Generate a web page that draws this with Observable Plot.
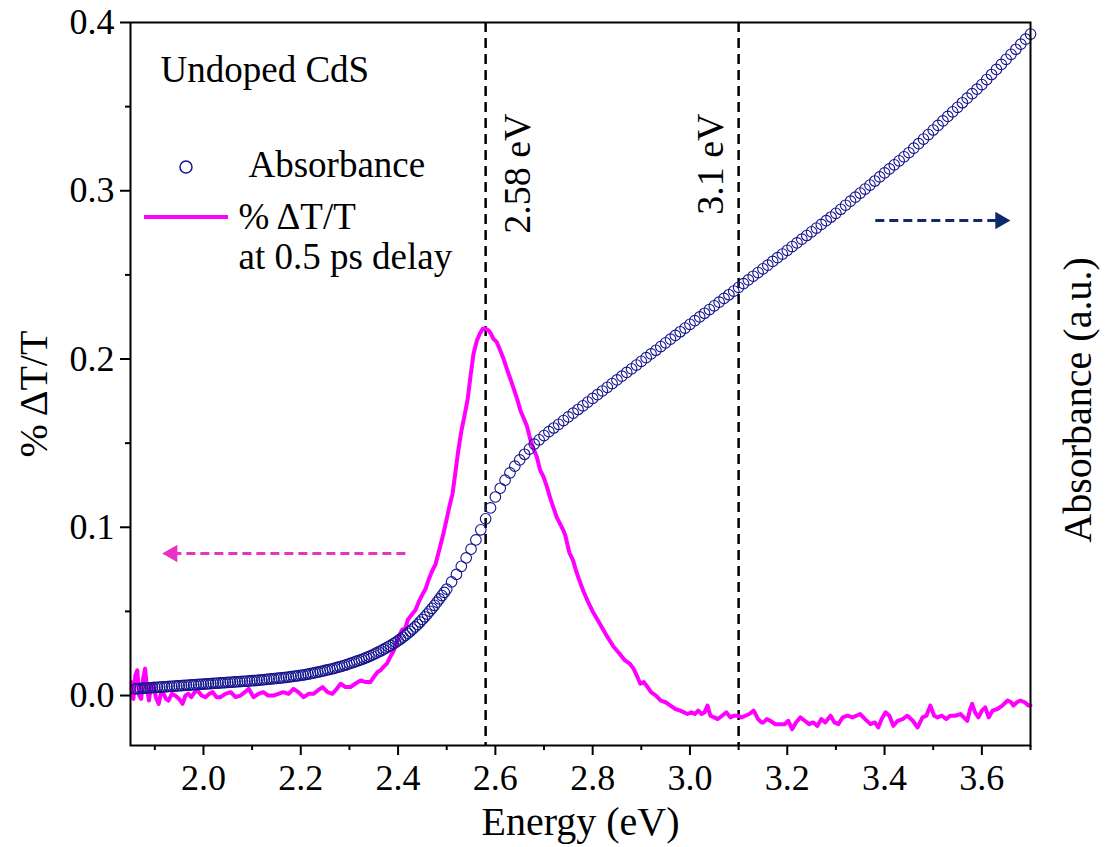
<!DOCTYPE html>
<html><head><meta charset="utf-8">
<script src="https://cdn.jsdelivr.net/npm/d3@7"></script>
<script src="https://cdn.jsdelivr.net/npm/@observablehq/plot@0.6"></script>
<style>
body{margin:0;background:#fff}
#chart{width:1106px;height:847px}
#chart svg, #chart svg text{font-family:'Liberation Serif','Times New Roman',Times,serif !important;}
</style>
</head><body><div id="chart"></div>
<script>
// ---- data ----
const xDomain = [1.85, 3.70];
const yDomain = [-0.0297, 0.4];
const xMajor = [2.0, 2.2, 2.4, 2.6, 2.8, 3.0, 3.2, 3.4, 3.6];
const xMinor = [1.9, 2.1, 2.3, 2.5, 2.7, 2.9, 3.1, 3.3, 3.5, 3.7];
const yMajor = [0.0, 0.1, 0.2, 0.3, 0.4];
const yMinor = [0.05, 0.15, 0.25, 0.35];
const markerLines = [2.58, 3.1];
const markerLabels = ["2.58 eV", "3.1 eV"];

// Absorbance (a.u., drawn on the same vertical scale) — below the edge (dense sampling)
const absEnergyEdge = [1.860,1.865,1.870,1.875,1.880,1.885,1.890,1.895,1.900,1.905,1.910,1.915,1.920,1.925,1.930,1.935,1.940,1.945,1.950,1.955,1.960,1.965,1.970,1.975,1.980,1.985,1.990,1.995,2.000,2.005,2.010,2.015,2.020,2.025,2.030,2.035,2.040,2.045,2.050,2.055,2.060,2.065,2.070,2.075,2.080,2.085,2.090,2.095,2.100,2.105,2.110,2.115,2.120,2.125,2.130,2.135,2.140,2.145,2.150,2.155,2.160,2.165,2.170,2.175,2.180,2.185,2.190,2.195,2.200,2.205,2.210,2.215,2.220,2.225,2.230,2.235,2.240,2.245,2.250,2.255,2.260,2.265,2.270,2.275,2.280,2.285,2.290,2.295,2.300,2.305,2.310,2.315,2.320,2.325,2.330,2.335,2.340,2.345,2.350,2.355,2.360,2.365,2.370,2.375,2.380,2.385,2.390,2.395,2.400,2.405,2.410,2.415,2.420,2.425,2.430,2.435,2.440,2.445,2.450,2.455,2.460,2.465,2.470,2.475,2.480,2.485,2.490,2.495,2.500];
const absValueEdge = [.0040,.0041,.0042,.0043,.0044,.0045,.0046,.0047,.0048,.0049,.0050,.0051,.0052,.0053,.0054,.0055,.0056,.0057,.0058,.0059,.0060,.0061,.0062,.0063,.0064,.0065,.0066,.0067,.0068,.0069,.0070,.0071,.0072,.0073,.0074,.0075,.0076,.0077,.0078,.0079,.0080,.0081,.0082,.0083,.0084,.0085,.0086,.0087,.0088,.0089,.0090,.0091,.0093,.0094,.0096,.0097,.0099,.0100,.0102,.0103,.0105,.0106,.0108,.0110,.0112,.0114,.0116,.0118,.0120,.0122,.0125,.0127,.0130,.0133,.0136,.0139,.0142,.0145,.0149,.0152,.0156,.0159,.0163,.0167,.0171,.0175,.0180,.0184,.0189,.0194,.0199,.0204,.0209,.0214,.0220,.0226,.0232,.0238,.0245,.0252,.0259,.0266,.0274,.0282,.0290,.0298,.0307,.0316,.0326,.0336,.0347,.0358,.0370,.0382,.0395,.0408,.0422,.0437,.0452,.0468,.0484,.0501,.0518,.0536,.0555,.0574,.0594,.0613,.0632];
// Absorbance above 2.5 eV
const absEnergy = [2.51,2.52,2.53,2.54,2.55,2.56,2.57,2.58,2.59,2.60,2.61,2.62,2.63,2.64,2.65,2.66,2.67,2.68,2.69,2.70,2.71,2.72,2.73,2.74,2.75,2.76,2.77,2.78,2.79,2.80,2.81,2.82,2.83,2.84,2.85,2.86,2.87,2.88,2.89,2.90,2.91,2.92,2.93,2.94,2.95,2.96,2.97,2.98,2.99,3.00,3.01,3.02,3.03,3.04,3.05,3.06,3.07,3.08,3.09,3.10,3.11,3.12,3.13,3.14,3.15,3.16,3.17,3.18,3.19,3.20,3.21,3.22,3.23,3.24,3.25,3.26,3.27,3.28,3.29,3.30,3.31,3.32,3.33,3.34,3.35,3.36,3.37,3.38,3.39,3.40,3.41,3.42,3.43,3.44,3.45,3.46,3.47,3.48,3.49,3.50,3.51,3.52,3.53,3.54,3.55,3.56,3.57,3.58,3.59,3.60,3.61,3.62,3.63,3.64,3.65,3.66,3.67,3.68,3.69,3.70];
const absValue = [.0675,.0720,.0768,.0818,.0870,.0925,.0985,.1050,.1115,.1180,.1232,.1280,.1323,.1363,.1400,.1434,.1465,.1494,.1520,.1545,.1568,.1590,.1612,.1634,.1656,.1678,.1700,.1722,.1744,.1766,.1788,.1810,.1832,.1854,.1876,.1898,.1920,.1942,.1964,.1986,.2008,.2030,.2052,.2074,.2096,.2118,.2140,.2162,.2184,.2206,.2228,.2250,.2272,.2294,.2316,.2338,.2360,.2382,.2404,.2426,.2448,.2470,.2492,.2514,.2536,.2558,.2580,.2602,.2624,.2646,.2668,.2690,.2712,.2734,.2756,.2778,.2800,.2822,.2844,.2866,.2890,.2914,.2938,.2962,.2986,.3010,.3034,.3058,.3082,.3106,.3130,.3154,.3178,.3202,.3226,.3253,.3280,.3307,.3334,.3361,.3388,.3415,.3442,.3469,.3496,.3523,.3550,.3577,.3604,.3631,.3661,.3691,.3721,.3751,.3781,.3811,.3841,.3871,.3901,.3931];

// % dT/T at 0.5 ps delay
const dtEnergy = [1.852,1.856,1.860,1.864,1.868,1.872,1.876,1.880,1.884,1.888,1.892,1.897,1.902,1.908,1.913,1.918,1.923,1.928,1.935,1.942,1.950,1.957,1.963,1.969,1.975,1.982,1.988,1.996,2.004,2.012,2.019,2.027,2.035,2.045,2.056,2.066,2.076,2.085,2.093,2.103,2.113,2.123,2.133,2.144,2.154,2.164,2.175,2.185,2.195,2.206,2.216,2.226,2.235,2.245,2.255,2.265,2.274,2.282,2.292,2.302,2.312,2.323,2.333,2.343,2.350,2.358,2.364,2.370,2.377,2.384,2.390,2.399,2.408,2.415,2.420,2.428,2.436,2.443,2.450,2.456,2.463,2.470,2.477,2.485,2.493,2.500,2.506,2.512,2.518,2.524,2.530,2.537,2.543,2.549,2.555,2.562,2.568,2.574,2.580,2.586,2.591,2.596,2.603,2.610,2.617,2.625,2.631,2.637,2.645,2.652,2.658,2.665,2.672,2.678,2.685,2.692,2.699,2.706,2.713,2.719,2.726,2.733,2.740,2.744,2.752,2.760,2.766,2.772,2.781,2.790,2.800,2.810,2.820,2.830,2.843,2.855,2.866,2.876,2.884,2.892,2.898,2.905,2.913,2.920,2.930,2.940,2.950,2.960,2.970,2.980,2.995,3.003,3.010,3.017,3.024,3.030,3.036,3.042,3.050,3.057,3.066,3.075,3.083,3.090,3.098,3.106,3.114,3.122,3.131,3.140,3.147,3.151,3.158,3.165,3.175,3.186,3.195,3.202,3.210,3.218,3.227,3.236,3.245,3.253,3.262,3.270,3.278,3.289,3.297,3.305,3.314,3.324,3.334,3.342,3.350,3.360,3.371,3.380,3.387,3.394,3.402,3.410,3.418,3.427,3.437,3.447,3.458,3.468,3.478,3.486,3.494,3.502,3.509,3.518,3.527,3.535,3.545,3.556,3.563,3.570,3.576,3.580,3.586,3.593,3.600,3.607,3.614,3.622,3.632,3.642,3.653,3.660,3.665,3.672,3.679,3.688,3.696,3.700];
const dtValue = [0.008,-0.002,0.012,0.015,0.000,-0.002,0.010,0.016,0.004,-0.003,0.006,0.007,-0.001,-0.005,0.002,0.001,-0.002,-0.003,0.001,0.000,-0.002,-0.005,0.000,0.001,-0.001,0.002,0.003,0.000,-0.001,0.001,0.002,-0.001,-0.001,0.001,0.002,-0.001,0.000,0.002,0.004,-0.001,0.001,0.002,0.000,0.000,0.001,0.002,0.001,0.004,0.002,-0.001,0.001,0.001,0.003,0.005,0.002,0.001,0.004,0.007,0.005,0.005,0.007,0.009,0.008,0.008,0.011,0.014,0.015,0.017,0.019,0.023,0.026,0.033,0.039,0.040,0.045,0.048,0.051,0.056,0.060,0.063,0.069,0.074,0.078,0.087,0.096,0.105,0.113,0.120,0.133,0.146,0.157,0.167,0.176,0.190,0.203,0.211,0.215,0.218,0.218,0.217,0.215,0.212,0.210,0.205,0.200,0.193,0.188,0.183,0.176,0.169,0.165,0.160,0.152,0.147,0.142,0.134,0.130,0.124,0.117,0.112,0.106,0.102,0.098,0.095,0.085,0.080,0.074,0.069,0.062,0.056,0.050,0.045,0.040,0.035,0.029,0.025,0.021,0.019,0.016,0.011,0.007,0.008,0.005,0.002,0.000,-0.003,-0.004,-0.006,-0.008,-0.009,-0.011,-0.010,-0.011,-0.009,-0.011,-0.010,-0.006,-0.012,-0.013,-0.014,-0.012,-0.010,-0.013,-0.012,-0.012,-0.013,-0.012,-0.011,-0.009,-0.014,-0.016,-0.016,-0.014,-0.015,-0.017,-0.017,-0.017,-0.015,-0.020,-0.016,-0.013,-0.015,-0.017,-0.016,-0.018,-0.014,-0.016,-0.012,-0.016,-0.017,-0.013,-0.012,-0.013,-0.012,-0.011,-0.014,-0.017,-0.016,-0.019,-0.014,-0.010,-0.012,-0.018,-0.015,-0.014,-0.012,-0.015,-0.019,-0.013,-0.012,-0.006,-0.012,-0.013,-0.012,-0.014,-0.012,-0.012,-0.011,-0.013,-0.015,-0.008,-0.005,-0.010,-0.013,-0.009,-0.007,-0.013,-0.009,-0.008,-0.006,-0.003,-0.004,-0.006,-0.004,-0.003,-0.004,-0.006,-0.006];

// direction arrows (data units): start energy, tip energy, level
const arrowStart = [2.415, 3.381];
const arrowEnd   = [1.936, 3.638];
const arrowLevel = [0.0844, 0.2823];
const arrowColors = ["#e633c4", "#0d2a6b"];
const arrowRotate = [-90, 90];

const legendTitle = "Undoped CdS";
const legendAbs = "Absorbance";
const legendDt = ["% ΔT/T", "at 0.5 ps delay"];
const xTitle = "Energy (eV)";
const yTitle = "% ΔT/T";
const y2Title = "Absorbance (a.u.)";

const absColor = "#14148c";
const dtColor = "#ff00ff";
const font = "'Liberation Serif', 'Times New Roman', Times, serif";

// ---- tables ----
const absRows = absEnergyEdge.map((e, i) => ({e, v: absValueEdge[i]}))
  .concat(absEnergy.map((e, i) => ({e, v: absValue[i]})));
const dtRows = dtEnergy.map((e, i) => ({e, v: dtValue[i]}));
const arrows = arrowStart.map((s, i) => ({x1: s, x2: arrowEnd[i], y: arrowLevel[i], c: arrowColors[i], r: arrowRotate[i]}));
const lines = markerLines.map((e, i) => ({e, label: markerLabels[i]}));

function legendSwatches(index, scales, values, dims) {
  const g = d3.create("svg:g");
  g.append("circle")
    .attr("cx", dims.marginLeft + 56).attr("cy", dims.marginTop + 145).attr("r", 6)
    .attr("fill", "none").attr("stroke", absColor).attr("stroke-width", 1.5);
  g.append("line")
    .attr("x1", dims.marginLeft + 14).attr("x2", dims.marginLeft + 98)
    .attr("y1", dims.marginTop + 195).attr("y2", dims.marginTop + 195)
    .attr("stroke", dtColor).attr("stroke-width", 4);
  return g.node();
}

const T = {fontFamily: font, lineAnchor: "middle"};

const chart = Plot.plot({
  width: 1106, height: 847,
  marginLeft: 130, marginRight: 76, marginTop: 22, marginBottom: 102,
  style: {fontFamily: font, fontSize: "36px", background: "white", color: "black", overflow: "visible"},
  x: {domain: xDomain},
  y: {domain: yDomain},
  marks: [
    Plot.axisX({ticks: xMajor, tickFormat: d => d.toFixed(1), tickSize: 10, tickPadding: 9, strokeWidth: 2, fontSize: 36, fontFamily: font, label: null}),
    Plot.axisX({ticks: xMinor, tickFormat: () => "", tickSize: 5, strokeWidth: 2, label: null}),
    Plot.axisY({ticks: yMajor, tickFormat: d => d.toFixed(1), tickSize: 10, tickPadding: 6, strokeWidth: 2, fontSize: 36, fontFamily: font, label: null}),
    Plot.axisY({ticks: yMinor, tickFormat: () => "", tickSize: 5, strokeWidth: 2, label: null}),
    Plot.ruleX(lines, {x: "e", stroke: "black", strokeWidth: 2.5, strokeDasharray: "10,6"}),
    Plot.line(dtRows, {x: "e", y: "v", stroke: dtColor, strokeWidth: 4, strokeLinejoin: "round"}),
    Plot.dot(absRows, {x: "e", y: "v", r: 5.3, stroke: absColor, fill: "none", strokeWidth: 1.1}),
    Plot.link(arrows, {x1: "x1", x2: "x2", y1: "y", y2: "y", stroke: "c", strokeWidth: 3, strokeDasharray: "9,5"}),
    Plot.dot(arrows, {x: "x2", y: "y", symbol: "triangle", r: 6.5, fill: "c", stroke: "none", rotate: "r"}),
    Plot.text(lines.slice(0, 1), {...T, x: "e", text: "label", frameAnchor: "top", dx: 32, dy: 91, rotate: -90, textAnchor: "end", fontSize: 38}),
    Plot.text(lines.slice(1), {...T, x: "e", text: "label", frameAnchor: "top", dx: -28, dy: 91, rotate: -90, textAnchor: "end", fontSize: 38}),
    Plot.text([legendTitle], {...T, text: d => d, frameAnchor: "top-left", dx: 30, dy: 48, textAnchor: "start", fontSize: 37}),
    Plot.text([legendAbs], {...T, text: d => d, frameAnchor: "top-left", dx: 118, dy: 143, textAnchor: "start", fontSize: 37}),
    Plot.text([legendDt[0]], {...T, text: d => d, frameAnchor: "top-left", dx: 108, dy: 195, textAnchor: "start", fontSize: 37}),
    Plot.text([legendDt[1]], {...T, text: d => d, frameAnchor: "top-left", dx: 108, dy: 235, textAnchor: "start", fontSize: 37}),
    legendSwatches,
    Plot.text([xTitle], {...T, text: d => d, frameAnchor: "bottom", dy: 77, textAnchor: "middle", fontSize: 40}),
    Plot.text([yTitle], {...T, text: d => d, frameAnchor: "left", dx: -96, dy: 10, rotate: -90, textAnchor: "middle", fontSize: 40}),
    Plot.text([y2Title], {...T, text: d => d, frameAnchor: "right", dx: 48, dy: 16, rotate: -90, textAnchor: "middle", fontSize: 40}),
    Plot.frame({stroke: "black", strokeWidth: 2})
  ]
});
document.getElementById("chart").append(chart);
</script></body></html>
